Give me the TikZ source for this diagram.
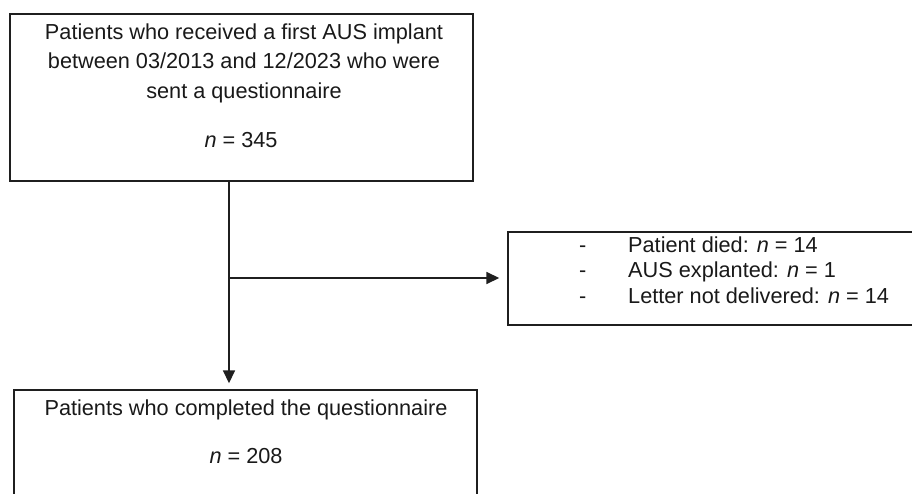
\documentclass[tikz,border=0pt]{standalone}
\usepackage{fontspec}
\setmainfont{Liberation Sans}
\usetikzlibrary{arrows.meta}
\begin{document}
\begin{tikzpicture}[x=1pt,y=-1pt,
  box/.style={draw=black!88,line width=1.4pt,rectangle,inner sep=0pt},
  txt/.style={anchor=base,inner sep=0pt,font=\fontsize{21.7}{26}\selectfont,text=black!90},
  ltxt/.style={txt,anchor=base west},
  flow/.style={draw=black!88,line width=1.6pt,-{Triangle[length=13pt,width=12pt]}}]
\useasboundingbox (0,0) rectangle (912,493);
\clip (0,0) rectangle (912,493);
% boxes
\node[box,minimum width=463pt,minimum height=167pt] (top) at (241.5,97.5) {};
\node[box,minimum width=463pt,minimum height=160pt] (bot) at (245.5,470) {};
\node[box,minimum width=430pt,minimum height=93pt] (excl) at (723,278.5) {};
% top text
\node[txt] (t1) at (244,39) {Patients who received a first AUS implant};
\node[txt] (t2) at (244,68) {between 03/2013 and 12/2023 who were};
\node[txt] (t3) at (244,98) {sent a questionnaire};
\node[txt] (t4) at (241,147) {\textit{n} = 345};
% exclusion text
\node[ltxt] (d1) at (579,252) {-};
\node[ltxt] (d2) at (579,277) {-};
\node[ltxt] (d3) at (579,303) {-};
\node[ltxt] (e1) at (628,252) {Patient died: \textit{n} = 14};
\node[ltxt] (e2) at (628,277) {AUS explanted: \textit{n} = 1};
\node[ltxt] (e3) at (628,303) {Letter not delivered: \textit{n} = 14};
% bottom text
\node[txt] (b1) at (246,415) {Patients who completed the questionnaire};
\node[txt] (b2) at (246,463) {\textit{n} = 208};
% connectors
\coordinate (s) at (229,181);
\coordinate (j) at (229,278);
\draw[flow,shorten >=6pt] (s) -- (s |- bot.north);
\draw[flow,shorten >=8pt] (j) -- (j -| excl.west);
\end{tikzpicture}
\end{document}
